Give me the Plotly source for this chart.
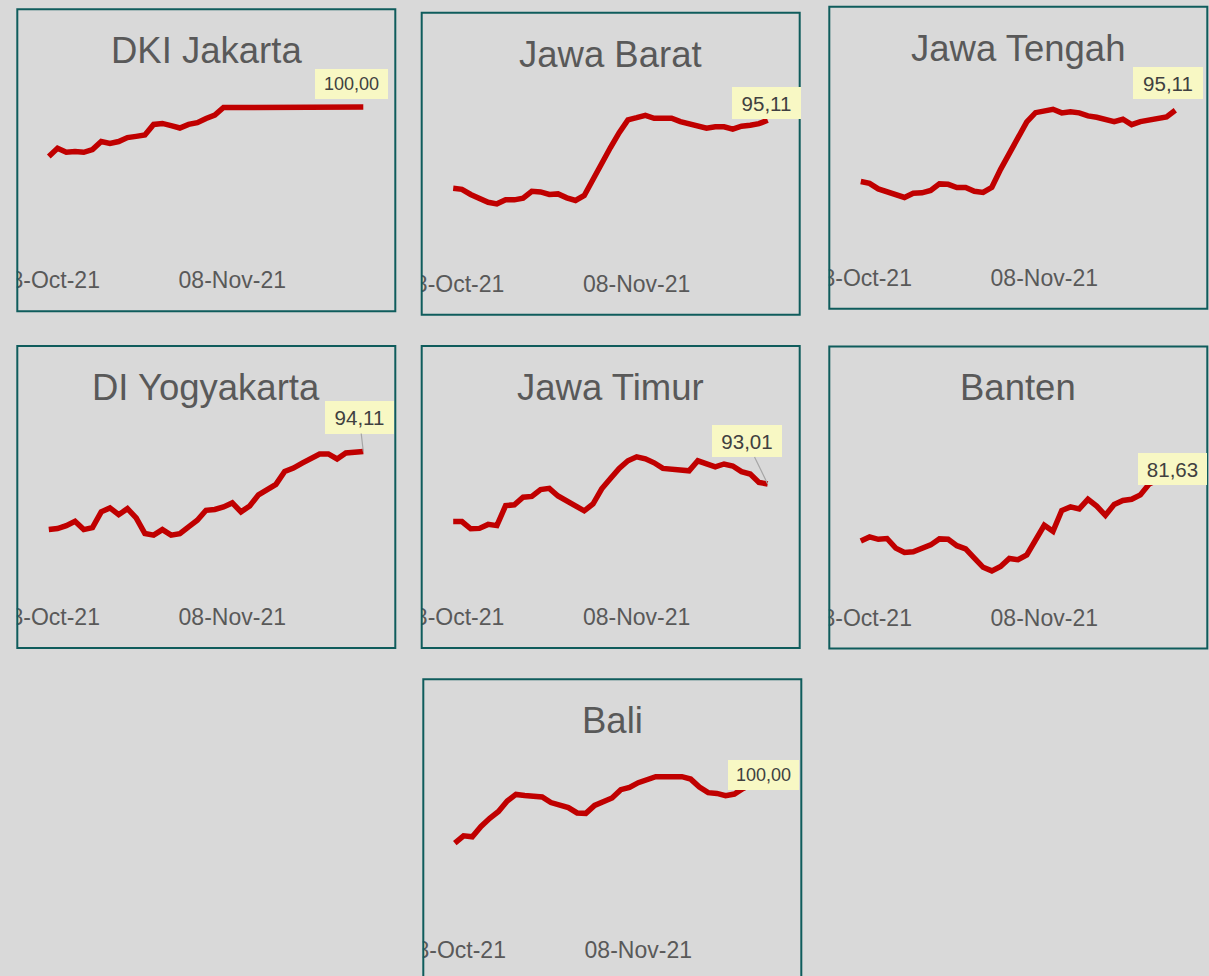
import plotly.graph_objects as go
import pandas as pd

W, H = 1209, 976

dates = pd.date_range("2021-10-18", "2021-11-23", freq="D")
tick_vals = ["2021-10-18", "2021-11-08"]
tick_text = ["18-Oct-21", "08-Nov-21"]

regions = ["DKI Jakarta", "Jawa Barat", "Jawa Tengah", "DI Yogyakarta",
           "Jawa Timur", "Banten", "Bali"]

dki = [75.2, 79.3, 77.3, 77.7, 77.3, 78.7, 82.7, 81.8, 82.7, 84.7, 85.3, 86.0,
       91.3, 91.8, 90.7, 89.5, 91.3, 92.2, 94.3, 96.0, 99.8, 99.8, 99.8, 99.9,
       100.0, 100.0, 100.0, 100.0, 100.0, 100.0, 100.0, 100.0, 100.0, 100.0,
       100.0, 100.0, 100.0]
jabar = [60.9, 60.4, 57.8, 56.1, 53.9, 53.1, 55.1, 55.1, 55.9, 59.4, 59.1, 57.8,
         58.1, 56.1, 54.8, 57.3, 65.6, 73.1, 81.4, 88.9, 95.3, 96.4, 97.6, 96.1,
         96.1, 96.1, 94.4, 93.4, 92.3, 91.1, 91.8, 91.8, 90.6, 92.1, 92.6, 93.4,
         95.11]
jateng = [59.3, 58.4, 55.6, 54.3, 52.6, 51.3, 53.4, 53.6, 54.8, 58.1, 57.9, 56.3,
          56.3, 54.4, 53.8, 56.4, 65.4, 73.4, 81.8, 89.3, 93.9, 94.8, 95.6, 93.8,
          94.4, 93.8, 92.3, 91.6, 90.8, 89.4, 90.6, 87.9, 89.4, 90.1, 91.3, 91.8,
          95.11]
diy = [54.9, 55.4, 56.9, 59.1, 54.9, 55.9, 63.8, 65.8, 62.4, 65.4, 60.8, 52.9,
       52.1, 54.9, 52.1, 52.8, 56.3, 59.6, 64.6, 65.0, 66.3, 68.3, 63.8, 66.8,
       72.4, 75.3, 77.6, 84.1, 85.8, 88.3, 90.4, 92.9, 92.9, 90.4, 93.4, 93.9,
       94.11]
jatim = [83.6, 83.6, 81.8, 81.9, 82.9, 82.6, 87.6, 87.8, 89.7, 89.9, 91.6, 91.9,
         90.0, 88.7, 87.5, 86.3, 88.0, 91.8, 94.4, 96.9, 98.8, 99.8, 99.3, 98.3,
         96.9, 96.8, 96.7, 96.3, 98.8, 98.2, 97.3, 98.0, 97.5, 96.1, 95.5, 93.4,
         93.01]
banten = [65.1, 66.1, 65.5, 65.7, 63.3, 62.2, 62.4, 63.4, 64.1, 65.6, 65.5, 63.9,
          63.1, 60.8, 58.5, 57.6, 58.7, 60.7, 60.4, 61.6, 65.6, 69.0, 67.5, 72.7,
          73.6, 73.1, 75.5, 73.8, 71.5, 74.2, 75.2, 75.5, 76.6, 79.3, 80.4, 81.1,
          81.63]
bali = [66.3, 70.0, 69.5, 74.7, 78.8, 82.2, 87.5, 90.8, 90.3, 89.8, 89.5, 86.7,
        85.3, 84.2, 81.5, 81.3, 85.3, 87.2, 89.0, 93.2, 94.3, 96.7, 98.0, 99.7,
        99.7, 99.7, 99.7, 98.5, 94.5, 91.7, 91.3, 90.2, 91.0, 93.8, 96.3, 98.3,
        100.0]

series = [dki, jabar, jateng, diy, jatim, banten, bali]
value_labels = ["100,00", "95,11", "95,11", "94,11", "93,01", "81,63", "100,00"]
y_ranges = [[18.5, 119], [18.5, 119], [16.5, 117], [16.5, 117],
            [62.5, 112.5], [48.7, 98.7], [18.0, 118.5]]

# ---- layout / styling (pixels) ----
BG = "#d9d9d9"
BORDER = "#0f5c5c"
RED = "#c00000"
GREY_TXT = "#595959"
LABEL_BG = "#f8f8c4"
FONT = "Liberation Sans, Arial, sans-serif"

boxes = [(17.3, 9.3), (421.7, 12.7), (829.3, 6.7), (17.3, 346.0),
         (421.7, 346.0), (829.3, 346.5), (423.3, 679.3)]
BOX_W, BOX_H = 378, 302
DX0, DX1 = 8, 370          # plot area x offsets within box
DY0, DY1 = 60, 260         # plot area y offsets within box
AXIS_Y = 255               # tick label axis offset within box
FIRST_X, LAST_X = 31.5, 346.0
ppd = (LAST_X - FIRST_X) / (len(dates) - 1)
x_lo = dates[0] - pd.Timedelta(days=(FIRST_X - DX0) / ppd)
x_hi = dates[0] + pd.Timedelta(days=(DX1 - FIRST_X) / ppd)
x_range = [x_lo.strftime("%Y-%m-%d %H:%M:%S"), x_hi.strftime("%Y-%m-%d %H:%M:%S")]

# label placement: (shift x, shift y up, arrow?, width, height, font size)
label_pos = [(-12, 23, False, 73, 30, 18),
             (-1, 17, False, 69, 32, 20.5),
             (-7, 27, False, 70, 32, 20.5),
             (-4, -34.5, True, 69, 33, 20.5),
             (-21, -43, True, 70, 32, 20.5),
             (-2.5, 6, False, 69, 32, 20.5),
             (-6, 1.5, False, 71, 30, 18)]

fig = go.Figure()
layout = {}
shapes = []
annotations = []

for i, (name, vals) in enumerate(zip(regions, series)):
    L, T = boxes[i]
    sfx = "" if i == 0 else str(i + 1)
    xa, ya = "x" + sfx, "y" + sfx
    fig.add_trace(go.Scatter(
        x=dates, y=vals, mode="lines", xaxis=xa, yaxis=ya,
        line=dict(color=RED, width=5.5), hoverinfo="skip", showlegend=False))
    layout["xaxis" + sfx] = dict(
        domain=[(L + DX0) / W, (L + DX1) / W], range=x_range, type="date",
        anchor="free", position=1 - (T + AXIS_Y) / H, automargin=False,
        tickvals=tick_vals, ticktext=tick_text, ticks="",
        ticklabeloverflow="allow",
        showgrid=False, zeroline=False, showline=False,
        tickfont=dict(family=FONT, size=23, color=GREY_TXT), fixedrange=True)
    layout["yaxis" + sfx] = dict(
        domain=[1 - (T + DY1) / H, 1 - (T + DY0) / H], range=y_ranges[i],
        anchor=xa, showgrid=False, zeroline=False, showline=False,
        showticklabels=False, ticks="", fixedrange=True, automargin=False)

    # mask left of box (clips the first tick label like the original)
    shapes.append(dict(type="rect", xref="paper", yref="paper", layer="above",
                       x0=(L - 30) / W, x1=(L - 0.5) / W,
                       y0=1 - (T + BOX_H) / H, y1=1 - T / H,
                       fillcolor=BG, line=dict(width=0)))

    # title
    annotations.append(dict(
        text=name, xref="paper", yref="paper", x=(L + BOX_W / 2) / W,
        y=1 - (T + 41.5) / H, xanchor="center", yanchor="middle",
        showarrow=False, font=dict(family=FONT, size=36.5, color=GREY_TXT)))

    sx, sy, arrow, bw, bh, fs = label_pos[i]
    ann = dict(text=value_labels[i], xref=xa, yref=ya, x=dates[-1], y=vals[-1],
               bgcolor=LABEL_BG, borderpad=0, borderwidth=0, width=bw, height=bh,
               align="center", valign="middle",
               font=dict(family=FONT, size=fs, color="#404040"))
    if arrow:
        ann.update(showarrow=True, ax=sx, ay=sy, axref="pixel", ayref="pixel",
                   arrowhead=0, arrowwidth=1.2, arrowcolor="#a6a6a6", standoff=0)
    else:
        ann.update(showarrow=False, xshift=sx, yshift=sy,
                   xanchor="center", yanchor="middle")
    annotations.append(ann)

for (L, T) in boxes:
    shapes.append(dict(type="rect", xref="paper", yref="paper", layer="above",
                       x0=L / W, x1=(L + BOX_W) / W,
                       y0=1 - (T + BOX_H) / H, y1=1 - T / H,
                       fillcolor="rgba(0,0,0,0)", line=dict(color=BORDER, width=2)))

fig.update_layout(
    width=W, height=H, margin=dict(l=0, r=0, t=0, b=0, autoexpand=False),
    paper_bgcolor=BG, plot_bgcolor=BG, showlegend=False,
    shapes=shapes, annotations=annotations, **layout)

fig.write_html("out.html", config={"displayModeBar": False})
